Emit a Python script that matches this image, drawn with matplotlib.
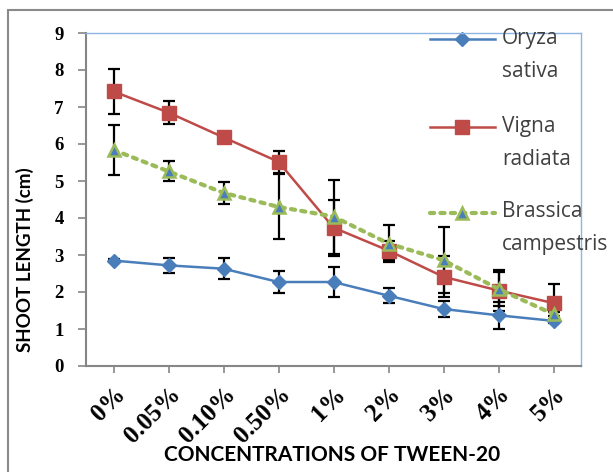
import numpy as np
import matplotlib
matplotlib.use("Agg")
from matplotlib import pyplot as plt
from matplotlib.lines import Line2D
from matplotlib.patches import Rectangle

categories = ["0%", "0.05%", "0.10%", "0.50%", "1%", "2%", "3%", "4%", "5%"]

oryza = [2.85, 2.72, 2.63, 2.27, 2.27, 1.90, 1.54, 1.37, 1.22]
oryza_err = [0.05, 0.20, 0.28, 0.30, 0.40, 0.20, 0.22, 0.37, 0.05]

vigna = [7.42, 6.85, 6.18, 5.52, 3.74, 3.12, 2.41, 2.04, 1.70]
vigna_err = [0.60, 0.32, 0.15, 0.30, 0.76, 0.26, 0.55, 0.55, 0.52]

brassica = [5.84, 5.26, 4.68, 4.30, 4.04, 3.31, 2.86, 2.08, 1.40]
brassica_err = [0.68, 0.27, 0.30, 0.88, 1.00, 0.50, 0.90, 0.45, 0.05]

blue = "#4A7EBB"
red = "#BE4B48"
green = "#9BBB59"

fig = plt.figure(figsize=(6.13, 4.72), dpi=100)
ax = fig.add_axes([86/613, 1 - 366/472, 495/613, 333/472])

x = np.arange(len(categories))

eb = dict(fmt="none", ecolor="black", elinewidth=1.6, capsize=4.5, capthick=1.6, zorder=2)
ax.errorbar(x, oryza, yerr=oryza_err, **eb)
ax.errorbar(x, vigna, yerr=vigna_err, **eb)
ax.errorbar(x, brassica, yerr=brassica_err, **eb)

ax.plot(x, oryza, color=blue, lw=1.8, marker="D", ms=7.5, mfc=blue, mec=blue, zorder=3)
ax.plot(x, vigna, color=red, lw=1.8, marker="s", ms=10, mfc=red, mec=red, zorder=3)
ax.plot(x, brassica, color=green, lw=3, dashes=(1, 1.5), dash_capstyle="round",
        marker="^", ms=9, mfc=blue, mec=green, mew=1.8, zorder=4)

ax.set_xlim(-0.5, len(categories) - 0.5)
ax.set_ylim(0, 9)
ax.set_yticks(range(0, 10))
ax.set_xticks(x)

ax.set_yticklabels([str(v) for v in range(0, 10)],
                   fontdict={"family": "Liberation Serif", "weight": "bold", "size": 13.5})
ax.set_xticklabels(categories, fontdict={"family": "Liberation Serif", "weight": "bold", "size": 18},
                   rotation=45, ha="right", va="top", rotation_mode="anchor")
ax.tick_params(axis="y", direction="out", length=6, width=1.2, color="#868686", pad=10)
ax.tick_params(axis="x", direction="out", length=5, width=1.2, color="#868686", pad=7)

for s in ["left", "bottom"]:
    ax.spines[s].set_color("#868686")
    ax.spines[s].set_linewidth(1.5)
for s in ["top", "right"]:
    ax.spines[s].set_color("#8DB4E2")
    ax.spines[s].set_linewidth(1.0)

ax.set_ylabel("SHOOT LENGTH (cm)", family="Lato", weight="bold", fontsize=13.5)
ax.yaxis.set_label_coords(-0.105, 0.32)
ax.set_xlabel("CONCENTRATIONS OF TWEEN-20", family="Lato", weight="bold", fontsize=15)
ax.xaxis.set_label_coords(0.497, -0.267)
ax.xaxis.label.set_va("center")

# legend (manual, handle next to first line of each label)
leg_items = [
    ("Oryza\nsativa", dict(color=blue, lw=1.8, marker="D", ms=7.5, mfc=blue, mec=blue), 0.982, 0.868),
    ("Vigna\nradiata", dict(color=red, lw=1.8, marker="s", ms=10, mfc=red, mec=red), 0.718, 0.604),
    ("Brassica\ncampestris", dict(color=green, lw=3, dashes=(1, 1.5), dash_capstyle="round",
                                  marker="^", ms=9, mfc=blue, mec=green, mew=1.8), 0.459, 0.348),
]
for label, style, yh, yt in leg_items:
    h = Line2D([0.695, 0.7605, 0.826], [yh, yh, yh], transform=ax.transAxes, clip_on=False,
               markevery=[1], **style)
    ax.add_line(h)
    ax.text(0.840, yt, label, transform=ax.transAxes, family="Open Sans", fontsize=15,
            color="#404040", va="baseline", ha="left", linespacing=1.75, clip_on=False)

fig.patches.append(Rectangle((8/613, -0.1), 610/613, 1.1 - 10/472, transform=fig.transFigure,
                             fill=False, edgecolor="#8a8a8a", lw=1.5))

fig.savefig("out.png", dpi=100)
